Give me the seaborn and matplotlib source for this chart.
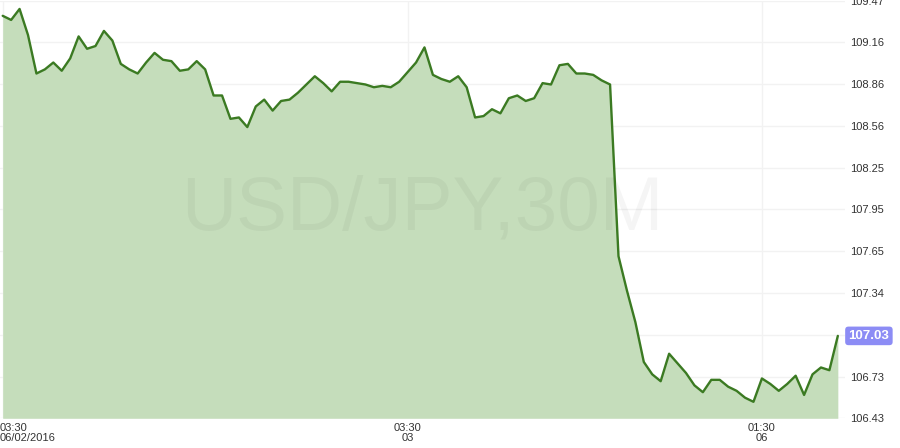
import pandas as pd
import seaborn as sns
import matplotlib.pyplot as plt
import numpy as np

sns.set_style("white")
plt.rcParams['font.family'] = ['Liberation Sans', 'DejaVu Sans']

# USD/JPY 30 minute closes
price = [109.36, 109.33, 109.41, 109.22, 108.94, 108.97, 109.02, 108.96, 109.05, 109.21,
         109.12, 109.14, 109.25, 109.18, 109.01, 108.97, 108.94, 109.02, 109.09, 109.04,
         109.03, 108.96, 108.97, 109.03, 108.97, 108.78, 108.78, 108.61, 108.62, 108.55,
         108.70, 108.75, 108.67, 108.74, 108.75, 108.80, 108.86, 108.92, 108.87, 108.81,
         108.88, 108.88, 108.87, 108.86, 108.84, 108.85, 108.84, 108.88, 108.95, 109.02,
         109.13, 108.93, 108.90, 108.88, 108.92, 108.84, 108.62, 108.63, 108.68, 108.65,
         108.76, 108.78, 108.74, 108.76, 108.87, 108.86, 109.00, 109.01, 108.94, 108.94,
         108.93, 108.89, 108.86, 107.61, 107.36, 107.13, 106.84, 106.75, 106.70, 106.90,
         106.83, 106.76, 106.67, 106.62, 106.71, 106.71, 106.66, 106.63, 106.58, 106.55,
         106.72, 106.68, 106.63, 106.68, 106.74, 106.60, 106.75, 106.80, 106.78, 107.03]

y_ticks = [106.43, 106.734, 107.038, 107.342, 107.646, 107.95, 108.254, 108.558, 108.862, 109.166, 109.47]
y_labels = ["106.43", "106.73", "", "107.34", "107.65", "107.95", "108.25", "108.56", "108.86", "109.16", "109.47"]
x_ticks = [0, 48, 90]
x_labels = ["03:30\n06/02/2016", "03:30\n03", "01:30\n06"]
last_price = "107.03"

df = pd.DataFrame({"bar": np.arange(len(price)), "price": price})

fig = plt.figure(figsize=(9, 4.48), dpi=100)
ax = fig.add_axes([0, 1 - 418.3 / 448, 845 / 900, 417.6 / 448])

line_col = "#3b7a22"
fill_col = "#c5ddbb"

ax.fill_between(df["bar"], df["price"], 106.43, color=fill_col, lw=0, zorder=1)
sns.lineplot(data=df, x="bar", y="price", color=line_col, lw=1.7, ax=ax, zorder=3)

ax.set_xlim(-0.32, 99.85)
ax.set_ylim(106.43, 109.47)

ax.text(0.5, 0.5, "USD/JPY,30M", transform=ax.transAxes, fontsize=55,
        color="#000000", alpha=0.04, ha="center", va="center", zorder=2)

ax.yaxis.tick_right()
ax.set_yticks(y_ticks)
ax.set_yticklabels(y_labels)
ax.set_xticks(x_ticks)
ax.set_xticklabels([])
ax.tick_params(axis="y", length=0, labelsize=8, labelcolor="#333333", pad=4)
ax.tick_params(axis="x", length=0)
ax.grid(True, color="#f2f2f2", lw=1)
ax.set_axisbelow(True)
for s in ax.spines.values():
    s.set_visible(False)
ax.set_xlabel("")
ax.set_ylabel("")

for xt, lab in zip(x_ticks, x_labels):
    ha = "left" if xt == 0 else "center"
    xpos = -0.32 if xt == 0 else xt
    ax.text(xpos, 106.43 - 0.035, lab, ha=ha, va="top", fontsize=8,
            color="#333333", linespacing=0.95, clip_on=False)

ax.annotate(last_price, xy=(1.0, price[-1]), xycoords=("axes fraction", "data"),
            xytext=(2.5, 0), textcoords="offset points", ha="left", va="center",
            fontsize=9.5, fontweight="bold", color="white",
            bbox=dict(boxstyle="round,pad=0.25", fc="#8c8cf5", ec="none"))

fig.savefig("out.png", dpi=100)
